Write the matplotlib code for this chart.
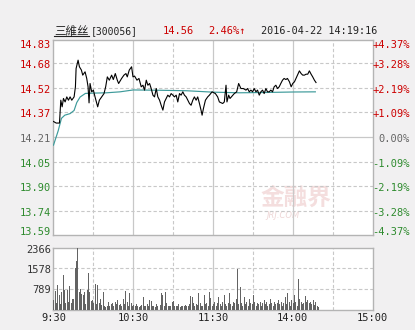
import matplotlib
matplotlib.use("Agg")
import matplotlib.pyplot as plt
from matplotlib.lines import Line2D

# stock info
name_cn = "三維丝"
code = "[300056]"
last_price = "14.56"
change_pct = "2.46%↑"
stamp = "2016-04-22 14:19:16"
pre_close = 14.21

# minutes since 9:30 (lunch break removed) and price
price_min = [0, 2, 4.5, 5.5, 6.5, 7.5, 8.75, 10, 11.25, 12.5, 13.75, 15.5, 16.5, 17, 18.5, 19.5,
             21, 22, 23.75, 25, 26, 26.75, 27.5, 28.75, 30, 31.25, 33.25, 34.5, 36.25, 38, 39.25,
             40.5, 42, 43.75, 45, 46.5, 48, 49, 51.25, 53, 54.5, 55.5, 57, 58.75, 59.8,
             61, 62.8, 64.3, 66, 67.3, 68.5, 69.8, 71, 72.3, 73.5, 74.8, 76, 77.3, 78.5, 79.8,
             81, 82.3, 83.5, 84.8, 86, 87.3, 88.5, 89.8, 91, 92.3, 93.5, 94.8, 96, 97.3, 98.5,
             99.8, 102.3, 103.5, 104.8, 106, 107.3, 108.5, 109.8, 111, 111.8, 112.8, 114.3, 116,
             117.3, 119.3, 121.8, 123.5, 124.8, 127.3, 128.5, 129.8, 130.5, 131.8, 132.8, 133.8,
             134.8, 136, 137.8, 139.3, 141, 142.8, 144.8, 146, 147.3, 148.5, 149.8, 151, 152.3,
             153.5, 154.8, 156, 157.3, 158.5, 159.8, 161, 162.3, 163.5, 164.8, 166, 167.3, 168.5,
             169.8, 171, 172.3, 173.5, 174.8, 176, 177.5, 178.8, 180, 181.3, 183, 185, 186.3,
             187.5, 188.8, 190, 191.3, 192.5, 193.8, 195, 196.3, 197.5]
price = [14.31, 14.30, 14.30, 14.445, 14.403, 14.456, 14.434, 14.466, 14.445, 14.466, 14.445,
         14.466, 14.530, 14.646, 14.699, 14.657, 14.636, 14.604, 14.625, 14.583, 14.530, 14.428,
         14.551, 14.498, 14.509, 14.466, 14.403, 14.445, 14.466, 14.487, 14.530, 14.593, 14.572,
         14.604, 14.576, 14.614, 14.572, 14.551, 14.583, 14.604, 14.614, 14.593, 14.636, 14.657,
         14.593, 14.598, 14.572, 14.583, 14.530, 14.540, 14.509, 14.572, 14.540, 14.551, 14.519,
         14.477, 14.466, 14.519, 14.466, 14.445, 14.413, 14.382, 14.434, 14.456, 14.477, 14.466,
         14.487, 14.477, 14.466, 14.477, 14.434, 14.487, 14.477, 14.498, 14.477, 14.466, 14.424,
         14.413, 14.445, 14.466, 14.445, 14.466, 14.424, 14.382, 14.350, 14.392, 14.445, 14.466,
         14.477, 14.498, 14.487, 14.466, 14.434, 14.424, 14.434, 14.540, 14.434, 14.477, 14.456,
         14.466, 14.477, 14.487, 14.498, 14.551, 14.519, 14.519, 14.509, 14.519, 14.498, 14.509,
         14.498, 14.519, 14.498, 14.509, 14.477, 14.498, 14.509, 14.487, 14.519, 14.498, 14.498,
         14.509, 14.498, 14.530, 14.540, 14.519, 14.530, 14.551, 14.572, 14.583, 14.576, 14.583,
         14.562, 14.530, 14.551, 14.562, 14.593, 14.631, 14.614, 14.604, 14.604, 14.610, 14.610,
         14.631, 14.610, 14.593, 14.572, 14.557]

# average price line
avg_min = [0, 3.5, 6, 8.5, 12.5, 15.5, 17.5, 20, 24, 30, 40, 50, 60, 80, 100, 120, 140, 160, 180, 197]
avg_price = [14.16, 14.25, 14.33, 14.35, 14.36, 14.38, 14.43, 14.465, 14.488, 14.49, 14.492,
             14.498, 14.51, 14.508, 14.505, 14.496, 14.492, 14.494, 14.497, 14.498]

# volume per minute (0..199)
volume = [360, 700, 240, 960, 540, 200, 680, 1310, 750, 240,
          740, 300, 900, 240, 400, 420, 1600, 1870, 2366, 680,
          800, 600, 560, 680, 220, 760, 1400, 680, 320, 380,
          260, 1000, 200, 940, 240, 400, 180, 680, 120, 100,
          150, 300, 120, 200, 250, 150, 300, 200, 350, 180,
          220, 150, 400, 200, 700, 300, 150, 650, 250, 150,
          160, 140, 200, 120, 100, 150, 180, 490, 120, 150,
          200, 130, 360, 340, 150, 120, 100, 200, 150, 130,
          160, 620, 560, 150, 680, 250, 120, 150, 130, 300,
          320, 150, 130, 120, 200, 100, 150, 130, 120, 180,
          130, 150, 200, 520, 480, 250, 150, 200, 160, 620,
          250, 150, 120, 550, 200, 250, 150, 680, 450, 150,
          200, 300, 150, 250, 500, 200, 150, 300, 560, 200,
          150, 250, 630, 200, 150, 300, 250, 400, 1550, 200,
          870, 250, 150, 500, 200, 300, 150, 400, 250, 200,
          560, 300, 150, 250, 200, 300, 150, 250, 350, 200,
          300, 150, 200, 400, 250, 150, 300, 200, 250, 370,
          200, 300, 150, 250, 500, 200, 630, 300, 150, 370,
          250, 560, 300, 150, 1180, 400, 300, 200, 250, 530,
          300, 370, 250, 300, 230, 350, 170, 300, 130, 100]

price_ticks = [14.83, 14.68, 14.52, 14.37, 14.21, 14.05, 13.90, 13.74, 13.59]
pct_ticks = ["+4.37%", "+3.28%", "+2.19%", "+1.09%", "0.00%", "-1.09%", "-2.19%", "-3.28%", "-4.37%"]
vol_ticks = [2366, 1578, 789]
time_pos = [0, 60, 120, 180, 240]
time_labels = ["9:30", "10:30", "11:30", "14:00", "15:00"]

RED = "#cc0000"
GREEN = "#2e8b2e"
GRAY = "#666666"
GRID = "#c8c8c8"
FONT = ["DejaVu Sans Mono", "Noto Sans CJK SC"]

fig = plt.figure(figsize=(4.15, 3.3), dpi=100)
fig.patch.set_facecolor("#f1f0f1")

ax = fig.add_axes([0.1289, 0.2879, 0.7687, 0.5924])
vax = fig.add_axes([0.1289, 0.0621, 0.7687, 0.1864])

for a in (ax, vax):
    a.set_facecolor("white")
    a.set_xlim(0, 240)
    a.set_xticks([])
    a.set_yticks([])
    for s in a.spines.values():
        s.set_color("#b4b4b4")
        s.set_linewidth(1)
    # vertical grid
    for m in [30, 60, 90, 120, 150, 180, 210]:
        if m % 60 == 0:
            a.axvline(m, color=GRID, lw=0.9, zorder=1)
        else:
            a.axvline(m, color=GRID, lw=0.8, ls=(0, (3, 2)), zorder=1)

ax.set_ylim(price_ticks[-1], price_ticks[0])
for p in price_ticks[1:-1]:
    if p == pre_close:
        ax.axhline(p, color=GRID, lw=0.9, zorder=1)
    else:
        ax.axhline(p, color=GRID, lw=0.8, ls=(0, (3, 2)), zorder=1)

# watermark
ax.text(0.76, 0.19, "金融界", transform=ax.transAxes, ha="center", va="center",
        fontsize=17, fontweight="bold", color="#f4dede", family=FONT, zorder=0)
ax.text(0.72, 0.10, "JRJ.COM", transform=ax.transAxes, ha="center", va="center",
        fontsize=6, style="italic", color="#eed6d6", zorder=0)

ax.plot(avg_min, avg_price, color="#3d9a9a", lw=0.85, zorder=3)
ax.plot(price_min, price, color="black", lw=0.8, zorder=4)

# price labels (top/bottom ones kept inside the frame)
for i, (p, pct) in enumerate(zip(price_ticks, pct_ticks)):
    if p > pre_close:
        c = RED
    elif p < pre_close:
        c = GREEN
    else:
        c = GRAY
    dy = -1.1
    if i == 0:
        dy = -4
    elif i == len(price_ticks) - 1:
        dy = 2.2
    ax.annotate(f"{p:.2f}", (0, p), xycoords=ax.get_yaxis_transform(), xytext=(-1.5, dy),
                textcoords="offset points", ha="right", va="center", fontsize=7.5,
                color=c, family=FONT)
    ax.annotate(pct, (1.1176, p), xycoords=ax.get_yaxis_transform(), xytext=(0, dy),
                textcoords="offset points", ha="right", va="center", fontsize=7.5,
                color=c, family=FONT)

# volume
vax.set_ylim(0, vol_ticks[0])
for v in vol_ticks[1:]:
    vax.axhline(v, color=GRID, lw=0.8, ls=(0, (3, 2)), zorder=1)
vax.bar(range(len(volume)), volume, width=0.75, align="edge", color="#636363", zorder=3)
for i, v in enumerate(vol_ticks):
    vax.annotate(str(v), (0, v), xycoords=vax.get_yaxis_transform(),
                 xytext=(-1.5, -1.5 if i == 0 else -1), textcoords="offset points",
                 ha="right", va="center", fontsize=7.5, color="#333333", family=FONT)
for m, lab in zip(time_pos, time_labels):
    vax.text(m, -0.14, lab, transform=vax.get_xaxis_transform(), ha="center",
             va="center", fontsize=7.5, color="#222222", family=FONT)

# header
hy = 1 - 31 / 330
fig.text(54 / 415, hy, name_cn, ha="left", va="center", fontsize=8.3,
         color="#222222", family=FONT)
fig.add_artist(Line2D([54 / 415, 89 / 415], [1 - 35.5 / 330, 1 - 35.5 / 330], color="#222222", lw=0.8))
fig.text(91 / 415, hy, code, ha="left", va="center", fontsize=7,
         color="#222222", family=FONT)
fig.text(163 / 415, hy, last_price, ha="left", va="center", fontsize=7.5,
         color=RED, family=FONT)
fig.text(208 / 415, hy, change_pct, ha="left", va="center", fontsize=7.5,
         color=RED, family=FONT)
fig.text(261 / 415, hy, stamp, ha="left", va="center", fontsize=7.3,
         color="#222222", family=FONT)

fig.savefig("out.png", dpi=100, facecolor=fig.get_facecolor())
